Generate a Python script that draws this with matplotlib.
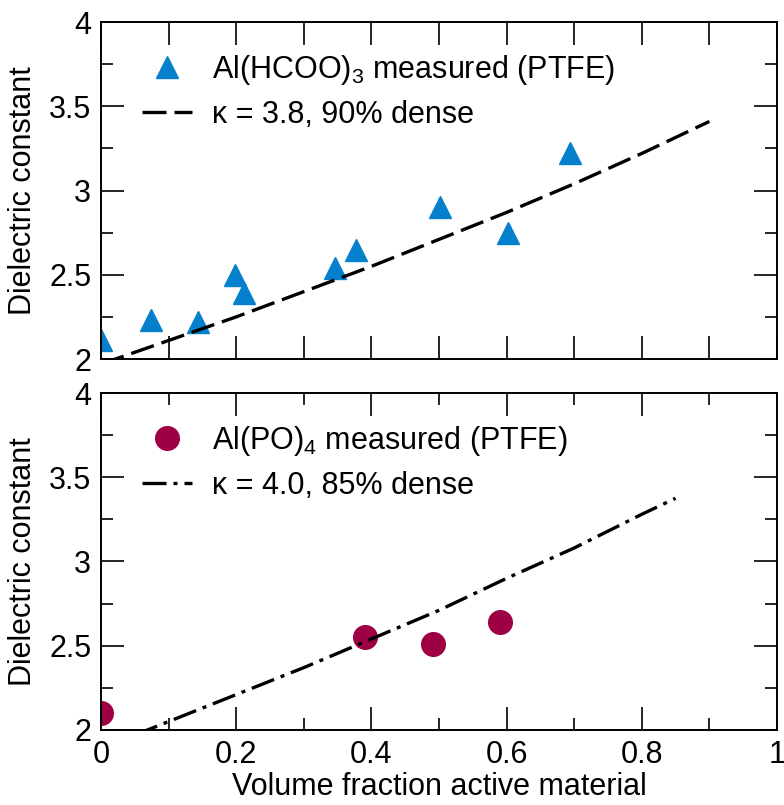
import matplotlib
matplotlib.use("Agg")
import matplotlib.pyplot as plt
from matplotlib.ticker import MultipleLocator

plt.rcParams['font.family'] = ['Liberation Sans', 'DejaVu Sans']
plt.rcParams['mathtext.fontset'] = 'custom'
plt.rcParams['mathtext.rm'] = 'Liberation Sans'
plt.rcParams['mathtext.it'] = 'Liberation Sans:italic'
plt.rcParams['axes.linewidth'] = 1.4

# Al(HCOO)3 measured points
hcoo_x = [0.0, 0.074, 0.143, 0.198, 0.212, 0.346, 0.377, 0.502, 0.602, 0.694]
hcoo_y = [2.11, 2.23, 2.22, 2.50, 2.39, 2.54, 2.65, 2.90, 2.75, 3.22]

# model curve kappa = 3.8, 90% dense
fit1_x = [0.0, 0.1, 0.2, 0.3, 0.4, 0.5, 0.6, 0.7, 0.8, 0.9]
fit1_y = [1.97, 2.11, 2.25, 2.40, 2.55, 2.71, 2.87, 3.04, 3.22, 3.41]

# Al(PO)4 measured points
po_x = [0.0, 0.391, 0.491, 0.591]
po_y = [2.10, 2.55, 2.51, 2.64]

# model curve kappa = 4.0, 85% dense
fit2_x = [0.05, 0.1, 0.2, 0.3, 0.4, 0.5, 0.6, 0.7, 0.8, 0.85]
fit2_y = [1.97, 2.05, 2.21, 2.37, 2.54, 2.71, 2.90, 3.08, 3.28, 3.375]

blue = '#0580CC'
wine = '#9E0044'
fs = 22
W, H = 7.84, 8.05

fig = plt.figure(figsize=(W, H), dpi=100)
ax1 = fig.add_axes([0.1288, 0.554, 0.8622, 0.4186])
ax2 = fig.add_axes([0.1288, 0.0932, 0.8622, 0.4186])

ax1.plot(hcoo_x, hcoo_y, ls='none', marker='^', ms=16, color=blue,
         mec=blue, label='Al(HCOO)$_3$ measured (PTFE)')
ax1.plot(fit1_x, fit1_y, color='black', lw=2.4, dashes=(7.2, 2.4),
         label='κ = 3.8, 90% dense')

ax2.plot(po_x, po_y, ls='none', marker='o', ms=17, color=wine,
         mec=wine, label='Al(PO)$_4$ measured (PTFE)')
ax2.plot(fit2_x, fit2_y, color='black', lw=2.4, dashes=(7.2, 2.1, 1.2, 2.1),
         label='κ = 4.0, 85% dense')

ax1.xaxis.set_major_locator(MultipleLocator(0.1))
ax2.xaxis.set_major_locator(MultipleLocator(0.2))
ax2.xaxis.set_minor_locator(MultipleLocator(0.1))
ax2.xaxis.set_major_formatter(plt.FuncFormatter(lambda v, p: f'{v:g}'))
ax1.xaxis.set_ticklabels([])

for ax in (ax1, ax2):
    ax.yaxis.set_major_locator(MultipleLocator(0.5))
    ax.yaxis.set_minor_locator(MultipleLocator(0.25))
    ax.yaxis.set_major_formatter(plt.FuncFormatter(lambda v, p: f'{v:g}'))
    ax.tick_params(which='both', length=0, labelsize=fs, pad=7)
    ax.set_ylabel('Dielectric constant', fontsize=fs, labelpad=8)
    ax.legend(loc='upper left', frameon=False, fontsize=fs, numpoints=1,
              handlelength=1.63, handletextpad=0.65, labelspacing=0.42,
              borderaxespad=0.0, bbox_to_anchor=(0.043, 0.945))

ax2.set_xlabel('Volume fraction active material', fontsize=fs, labelpad=2)

# inward tick marks on all four sides, at the locator positions
major_px, minor_px = 23, 12
for ax in (ax1, ax2):
    ax.set_xlim(0, 1)
    ax.set_ylim(2, 4)
    pos = ax.get_position()
    wpx = pos.width * W * 100
    hpx = pos.height * H * 100
    for locs, L in ((ax.yaxis.get_majorticklocs(), major_px),
                    (ax.yaxis.get_minorticklocs(), minor_px)):
        for v in locs:
            if 2 <= v <= 4:
                for x0, x1 in ((0, L / wpx), (1 - L / wpx, 1)):
                    ax.plot([x0, x1], [v, v], color='black', lw=1.2,
                            solid_capstyle='butt', clip_on=False,
                            transform=ax.get_yaxis_transform())
    for locs, L in ((ax.xaxis.get_majorticklocs(), major_px),
                    (ax.xaxis.get_minorticklocs(), minor_px)):
        for v in locs:
            if 0 <= v <= 1:
                for y0, y1 in ((0, L / hpx), (1 - L / hpx, 1)):
                    ax.plot([v, v], [y0, y1], color='black', lw=1.2,
                            solid_capstyle='butt', clip_on=False,
                            transform=ax.get_xaxis_transform())
    ax.set_xlim(0, 1)
    ax.set_ylim(2, 4)

fig.savefig('out.png', dpi=100)
